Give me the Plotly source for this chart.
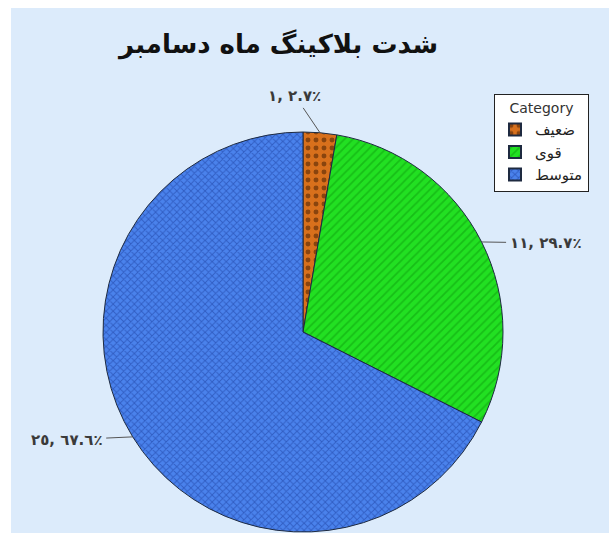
import math
import plotly.graph_objects as go

W, H = 609, 533

# data
categories = ["ضعیف", "قوی", "متوسط"]
counts = [1, 11, 25]
title_text = "شدت بلاکینگ ماه دسامبر"
legend_title = "Category"

# styles
fill_colors = ["#D8701C", "#22E022", "#4A82EC"]
pattern_fg = ["#3A1800", "#0C9C0C", "#183A9A"]
pattern_shapes = [".", "/", "x"]
pattern_sizes = [8, 6, 5]
pattern_solidity = [0.3, 0.3, 0.35]
bg_color = "#DCEBFB"
label_font = "DejaVu Sans"

AR_DIGITS = str.maketrans("0123456789", "٠١٢٣٤٥٦٧٨٩")


def to_arabic(s):
    return s.translate(AR_DIGITS)


total = sum(counts)
labels_txt = []
for c in counts:
    pct = 100.0 * c / total
    txt = to_arabic(f"{c}, {pct:.1f}") + "٪"
    # force left-to-right visual order of the mixed digits/punctuation
    labels_txt.append("\u202d" + txt + "\u202c")

# pie placement (pixels)
cx, cy, R = 303, 332, 200
dom_x = [(cx - R) / W, (cx + R) / W]
dom_y = [(H - (cy + R)) / H, (H - (cy - R)) / H]

fig = go.Figure()
fig.add_trace(go.Pie(
    labels=categories,
    values=counts,
    sort=False,
    direction="clockwise",
    rotation=0,
    textinfo="none",
    hoverinfo="label+value+percent",
    domain=dict(x=dom_x, y=dom_y),
    marker=dict(
        colors=fill_colors,
        line=dict(color="#1E2A40", width=1),
        pattern=dict(
            shape=pattern_shapes,
            fgcolor=pattern_fg,
            bgcolor=fill_colors,
            size=pattern_sizes,
            solidity=pattern_solidity,
            fillmode="overlay",
        ),
    ),
))

# offsets of each data label from its slice edge point (pixels)
label_offsets = [(-25, -37), (64, 1), (-66, 3)]

annotations = []
cum = 0.0
for c, txt, (dx, dy) in zip(counts, labels_txt, label_offsets):
    mid = (cum + c / 2.0) / total * 2 * math.pi
    cum += c
    px = cx + R * math.sin(mid)
    py = cy - R * math.cos(mid)
    annotations.append(dict(
        x=px / W, y=1 - py / H, xref="paper", yref="paper",
        text="<b>" + txt + "</b>",
        showarrow=True, arrowhead=0, arrowwidth=1, arrowcolor="#555555",
        ax=dx, ay=dy, axref="pixel", ayref="pixel",
        font=dict(family=label_font, size=15, color="#3A3A3A"),
        standoff=0, startstandoff=2,
    ))

annotations.append(dict(
    x=277 / W, y=1 - 44 / H, xref="paper", yref="paper",
    text="<b>" + title_text + "</b>", showarrow=False,
    font=dict(family=label_font, size=26, color="#111111"),
    xanchor="center", yanchor="middle",
))

fig.update_layout(
    width=W, height=H,
    margin=dict(l=0, r=0, t=0, b=0),
    paper_bgcolor="white",
    plot_bgcolor="white",
    shapes=[dict(
        type="rect", xref="paper", yref="paper",
        x0=11 / W, x1=1, y0=0, y1=1 - 8 / H,
        fillcolor=bg_color, line=dict(width=0), layer="below",
    )],
    annotations=annotations,
    showlegend=True,
    legend=dict(
        x=494 / W, y=1 - 94 / H, xanchor="left", yanchor="top",
        bgcolor="white", bordercolor="#222222", borderwidth=1,
        font=dict(family=label_font, size=15, color="#222222"),
        title=dict(text=legend_title, side="top center",
                   font=dict(family=label_font, size=14, color="#333333")),
        itemsizing="constant",
        tracegroupgap=0,
    ),
)

fig.write_html("out.html")
